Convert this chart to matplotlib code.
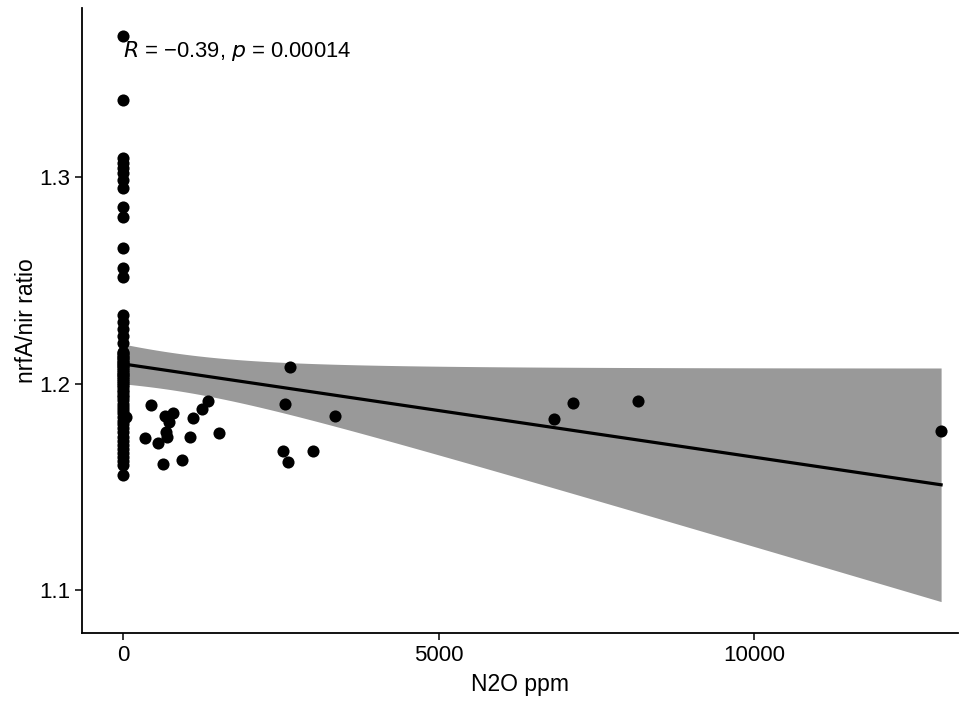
import numpy as np
import matplotlib
matplotlib.use("Agg")
import matplotlib.pyplot as plt

plt.rcParams['font.family'] = ['Liberation Sans', 'DejaVu Sans']

# samples with N2O = 0 (the vertical column at x = 0)
zero_ratio = [1.3685, 1.3375, 1.3094, 1.3070, 1.3046, 1.3020, 1.2988, 1.2950,
              1.2857, 1.2809, 1.2659, 1.2562, 1.2518,
              1.2334, 1.2300, 1.2266, 1.2232, 1.2199,
              1.2155, 1.2148, 1.2140, 1.2132, 1.2125, 1.2115, 1.2108, 1.2100,
              1.2092, 1.2085, 1.2075, 1.2068, 1.2060, 1.2050, 1.2042, 1.2035,
              1.2025, 1.2015, 1.2005, 1.1995, 1.1985, 1.1972, 1.1960, 1.1948,
              1.1935, 1.1920, 1.1905, 1.1890, 1.1875, 1.1858, 1.1840, 1.1822,
              1.1805, 1.1785, 1.1765, 1.1745, 1.1725, 1.1705, 1.1685, 1.1665,
              1.1645, 1.1625, 1.1608, 1.1560]

# samples with measurable N2O
n2o_ppm = [48, 349, 444, 555, 634, 666, 681, 697, 729, 792, 935, 1062, 1109,
           1252, 1347, 1521, 2536, 2567, 2615, 2647, 3011, 3360, 6830, 7132,
           8162, 12964]
n2o_ratio = [1.1840, 1.1738, 1.1898, 1.1714, 1.1613, 1.1845, 1.1768, 1.1743,
             1.1816, 1.1860, 1.1632, 1.1743, 1.1835, 1.1879, 1.1918, 1.1763,
             1.1676, 1.1903, 1.1622, 1.2082, 1.1676, 1.1845, 1.1830, 1.1908,
             1.1918, 1.1772]

x = np.array([0.0] * len(zero_ratio) + n2o_ppm)
y = np.array(zero_ratio + n2o_ratio)

fig = plt.figure(figsize=(9.6, 7.02), dpi=100)
ax = fig.add_axes([0.0854, 0.0983, 0.9126, 0.8903])

# linear fit with 95% confidence band (like geom_smooth(method = "lm"))
n = len(x)
slope, intercept = np.polyfit(x, y, 1)
resid = y - (slope * x + intercept)
s = np.sqrt(np.sum(resid ** 2) / (n - 2))
xs = np.linspace(x.min(), x.max(), 200)
fit = slope * xs + intercept
se = s * np.sqrt(1 / n + (xs - x.mean()) ** 2 / np.sum((x - x.mean()) ** 2))
t = 1.988
ax.fill_between(xs, fit - t * se, fit + t * se, color='#999999', lw=0, zorder=1)
ax.plot(xs, fit, color='black', lw=2.3, zorder=2)
ax.scatter(x, y, s=76, color='black', lw=0, zorder=3)

ax.text(0, 1.3610, r'$\it{R}$ = −0.39, $\it{p}$ = 0.00014', fontsize=15.8,
        ha='left', va='center')

ax.set_xlim(-650, 13233)
ax.set_ylim(1.0794, 1.382)
ax.set_xticks([0, 5000, 10000])
ax.set_yticks([1.1, 1.2, 1.3])
ax.set_xlabel('N2O ppm', fontsize=16.5, labelpad=5)
ax.set_ylabel('nrfA/nir ratio', fontsize=16.5, labelpad=1)
ax.tick_params(labelsize=16, length=5, width=1.1, colors='black')
for side in ['top', 'right']:
    ax.spines[side].set_visible(False)
for side in ['left', 'bottom']:
    ax.spines[side].set_linewidth(1.3)

plt.savefig('out.png', dpi=100)
